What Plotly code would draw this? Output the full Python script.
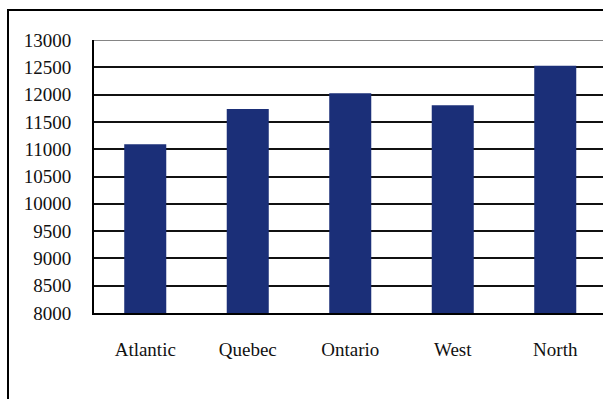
import plotly.graph_objects as go

categories = ["Atlantic", "Quebec", "Ontario", "West", "North"]
values = [11090, 11735, 12025, 11805, 12530]
y_ticks = list(range(8000, 13001, 500))
y_tick_labels = [str(v) for v in y_ticks]

W, H = 603, 399
ML, MR, MT, MB = 94, 0, 40, 86
pw, ph = W - ML - MR, H - MT - MB

def px_x(p):
    return (p - ML) / pw

def px_y(p):
    return 1 - (p - MT) / ph

cat_px = 102.5
fig = go.Figure(go.Bar(
    x=categories, y=values, marker_color="#1B2F78", marker_line_width=0,
    width=0.41,
))

font = dict(family="Liberation Serif, Times New Roman, serif", size=19, color="#111111")

fig.update_layout(
    width=W, height=H,
    margin=dict(l=ML, r=MR, t=MT, b=MB),
    paper_bgcolor="white", plot_bgcolor="white",
    showlegend=False,
    font=font,
    xaxis=dict(
        range=[-0.5, -0.5 + pw / cat_px],
        showgrid=False, showline=True, linecolor="black", linewidth=2,
        ticks="", ticklabelstandoff=18, tickfont=font,
    ),
    yaxis=dict(
        range=[8000, 13000], tickvals=y_ticks, ticktext=y_tick_labels,
        showgrid=True, gridcolor="#111111", gridwidth=1.6,
        showline=True, linecolor="black", linewidth=2,
        ticks="", ticklabelstandoff=17, tickfont=font, zeroline=False,
    ),
    shapes=[
        dict(type="line", xref="paper", yref="y", x0=0, x1=1, y0=13000, y1=13000,
             line=dict(color="#858585", width=2), layer="above"),
        dict(type="rect", xref="paper", yref="paper",
             x0=px_x(8), x1=px_x(W + 20), y0=px_y(H + 20), y1=px_y(10),
             line=dict(color="black", width=2), layer="above"),
    ],
)

fig.write_html("out.html")
